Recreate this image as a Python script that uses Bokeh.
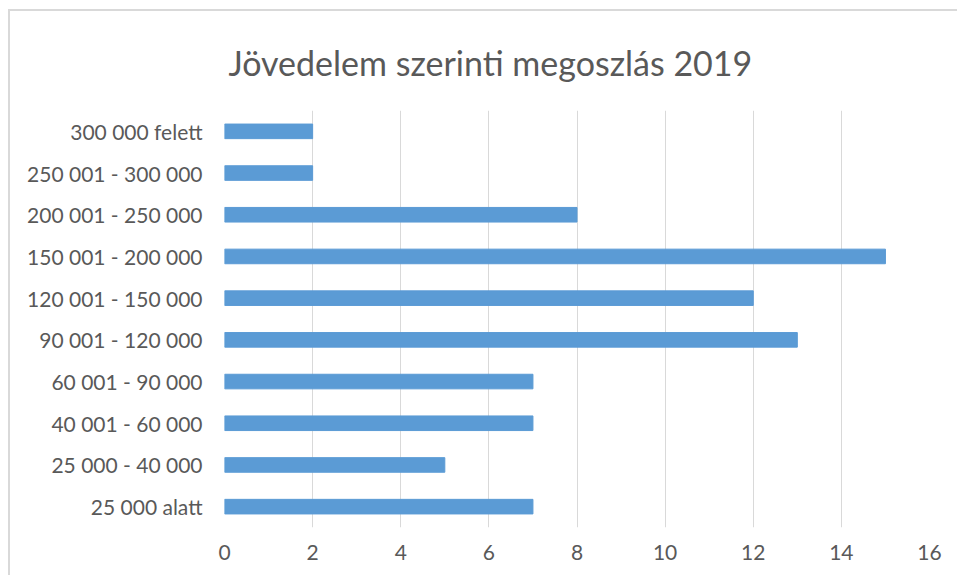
from bokeh.plotting import figure
from bokeh.models import FactorRange, Range1d, FixedTicker, ColumnDataSource
from bokeh.embed import file_html
from bokeh.resources import INLINE

title_text = "Jövedelem szerinti megoszlás 2019"
categories = ["25 000 alatt", "25 000 - 40 000", "40 001 - 60 000", "60 001 - 90 000",
              "90 001 - 120 000", "120 001 - 150 000", "150 001 - 200 000",
              "200 001 - 250 000", "250 001 - 300 000", "300 000 felett"]
values = [7, 5, 7, 7, 13, 12, 15, 8, 2, 2]
x_ticks = [0, 2, 4, 6, 8, 10, 12, 14, 16]

TEXT = "#595959"
GRID = "#D9D9D9"
BAR = "#5B9BD5"
FONT = "Lato"

src = ColumnDataSource(dict(cat=categories, val=values))

p = figure(width=949, height=566, output_backend="svg", toolbar_location=None,
           y_range=FactorRange(factors=categories, range_padding=0),
           x_range=Range1d(0, 16),
           min_border_left=214, min_border_right=30, min_border_top=99, min_border_bottom=50,
           styles={"margin-left": "8px", "margin-top": "9px",
                   "border-left": "2px solid #D9D9D9", "border-top": "2px solid #D9D9D9"})
p.hbar(y="cat", right="val", left=0, height=0.35, source=src,
       fill_color=BAR, line_color=BAR)

p.title.text = title_text
p.title.align = "left"
p.title.offset = 4
p.title.standoff = 56
p.title.text_line_height = 0.9
p.title.text_color = TEXT
p.title.text_font = FONT
p.title.text_font_style = "normal"
p.title.text_font_size = "34px"

p.outline_line_color = None
p.ygrid.grid_line_color = None
p.xgrid.grid_line_color = GRID
p.xgrid.grid_line_width = 1
p.xaxis.ticker = FixedTicker(ticks=x_ticks)

for ax in (p.xaxis[0], p.yaxis[0]):
    ax.axis_line_color = None
    ax.major_tick_line_color = None
    ax.minor_tick_line_color = None
    ax.major_label_text_color = TEXT
    ax.major_label_text_font = FONT
    ax.major_label_text_font_size = "21px"
p.xaxis.major_label_standoff = 11
p.yaxis.major_label_standoff = 16

open("out.html", "w").write(file_html(p, INLINE))
